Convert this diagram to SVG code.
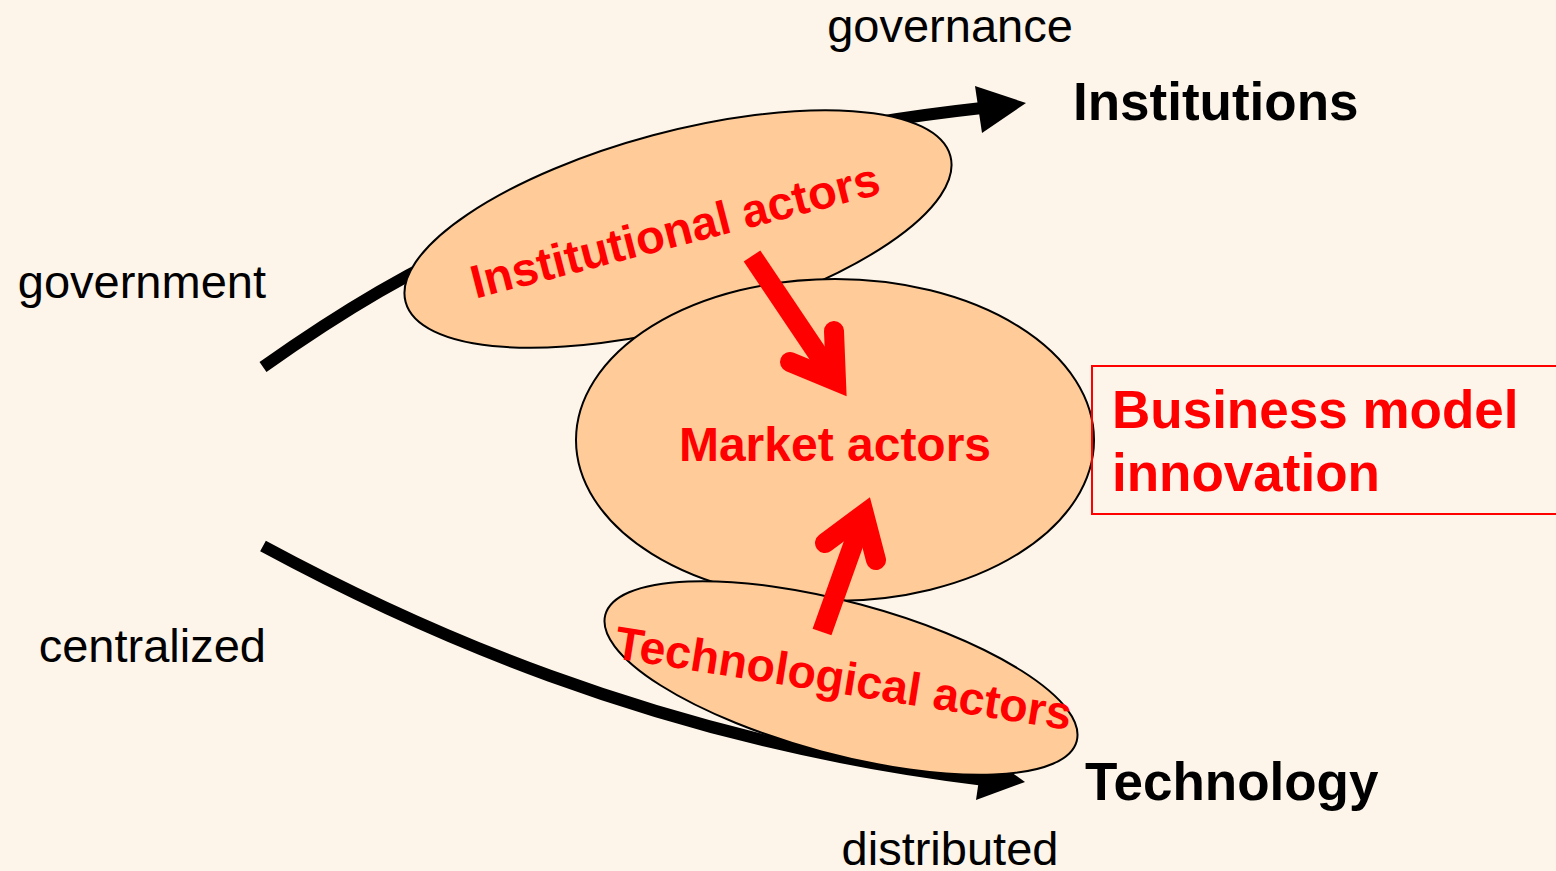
<svg xmlns="http://www.w3.org/2000/svg" width="1556" height="871" viewBox="0 0 1556 871">
<defs>
<style>
.lbl{font-family:"Liberation Sans",Arial,sans-serif;font-size:47px;fill:#000}
.big{font-family:"Liberation Sans",Arial,sans-serif;font-size:53px;font-weight:bold;fill:#000}
.red{font-family:"Liberation Sans",Arial,sans-serif;font-weight:bold;fill:#FF0000}
.node{fill:#FFCC99;stroke:#000;stroke-width:2}
.axis{fill:none;stroke:#000;stroke-width:12}
.rshaft{fill:none;stroke:#FF0000;stroke-width:20}
.rhead{fill:none;stroke:#FF0000;stroke-width:20;stroke-linecap:round;stroke-linejoin:miter;stroke-miterlimit:10}
</style>
</defs>
<rect x="0" y="0" width="1556" height="871" fill="#FDF5EA"/>
<g id="axes">
<path class="axis" d="M263,367 C400,270 600,150 982,108"/>
<polygon points="1026,103 975,86 982,133" fill="#000"/>
<path class="axis" d="M263,546 C400,620 650,740 985,780"/>
<polygon points="1025,782 983,752 976,800" fill="#000"/>
</g>
<g id="institutional-actors">
<ellipse class="node" cx="678" cy="229" rx="282" ry="97" transform="rotate(-15 678 229)"/>
</g>
<g id="market-actors">
<ellipse class="node" cx="835" cy="440" rx="259" ry="161"/>
<text class="red" x="835" y="461" font-size="48" text-anchor="middle">Market actors</text>
</g>
<g id="technological-actors">
<ellipse class="node" cx="841" cy="678" rx="244" ry="76" transform="rotate(15 841 678)"/>
</g>
<g id="institutional-label">
<text class="red" x="679" y="246" font-size="47" text-anchor="middle" transform="rotate(-14.5 679 246)">Institutional actors</text>
</g>
<g id="technological-label">
<text class="red" x="841" y="694" font-size="46.5" text-anchor="middle" transform="rotate(9 841 694)">Technological actors</text>
</g>
<g id="connectors">
<g id="arrow-inst-market">
<line class="rshaft" x1="752" y1="256" x2="832" y2="375"/>
<path class="rhead" d="M790,362 L836,381 L834,331"/>
</g>
<g id="arrow-tech-market">
<line class="rshaft" x1="822" y1="632" x2="862" y2="520"/>
<path class="rhead" d="M825,543 L864,514 L876,560"/>
</g>
</g>
<g id="labels">
<text class="lbl" x="950" y="42" text-anchor="middle">governance</text>
<text class="lbl" x="950" y="865" text-anchor="middle">distributed</text>
<text class="lbl" x="266" y="298" text-anchor="end">government</text>
<text class="lbl" x="266" y="662" text-anchor="end">centralized</text>
<text class="big" x="1073" y="120">Institutions</text>
<text class="big" x="1085" y="800">Technology</text>
</g>
<g id="business-model-innovation">
<rect x="1092" y="366" width="470" height="148" fill="none" stroke="#FF0000" stroke-width="2"/>
<text class="red" x="1112" y="428" font-size="53">Business model</text>
<text class="red" x="1112" y="491" font-size="53">innovation</text>
</g>
</svg>
